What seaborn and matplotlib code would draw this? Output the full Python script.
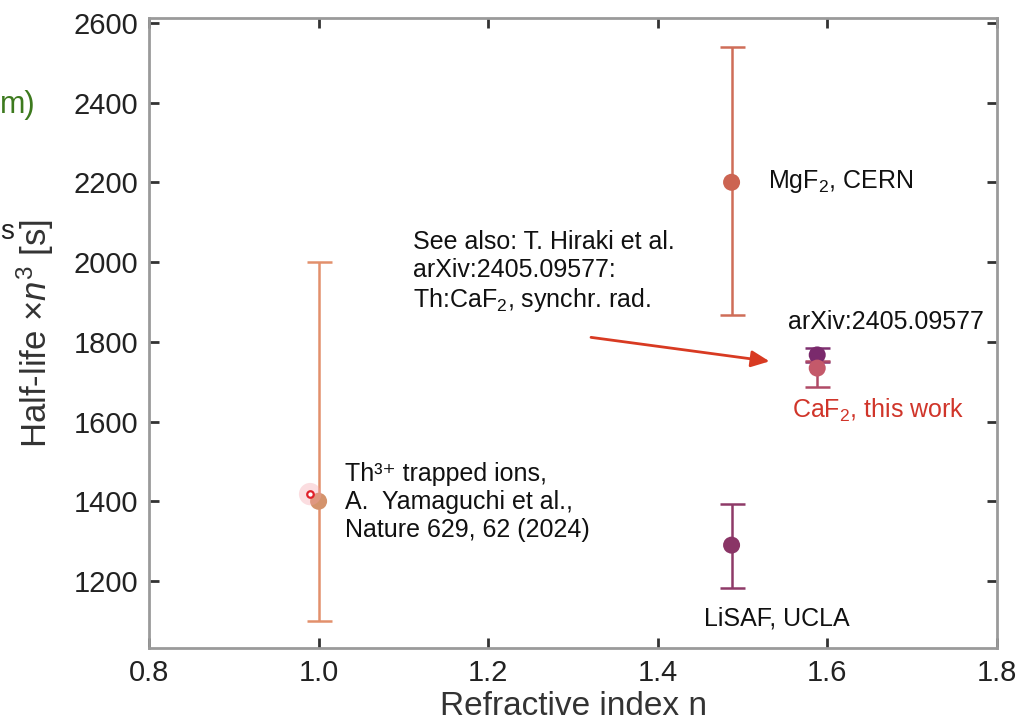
import matplotlib
matplotlib.use("Agg")
import matplotlib.pyplot as plt
import seaborn as sns
import numpy as np
import pandas as pd

# ---- data ----
labels = ["Th3+ trapped ions", "MgF2, CERN", "LiSAF, UCLA", "arXiv:2405.09577", "CaF2, this work"]
n_index = [1.0, 1.487, 1.487, 1.588, 1.588]
half_life = [1400, 2200, 1290, 1767, 1734]
err_low = [1100, 1868, 1183, 1749, 1687]
err_high = [2000, 2540, 1393, 1785, 1752]
point_colors = ["#d4936c", "#cc6452", "#8a3566", "#7a2a6c", "#c4596a"]
bar_colors = ["#e2906c", "#cf6d58", "#8e3a68", "#7e3070", "#b04a66"]

x_ticks = [0.8, 1.0, 1.2, 1.4, 1.6, 1.8]
y_ticks = [1200, 1400, 1600, 1800, 2000, 2200, 2400, 2600]

df = pd.DataFrame({"label": labels, "n": n_index, "t": half_life,
                   "lo": err_low, "hi": err_high})

sns.set_style("ticks")
plt.rcParams["font.family"] = ["Liberation Sans", "DejaVu Sans"]
plt.rcParams["mathtext.fontset"] = "custom"
plt.rcParams["mathtext.rm"] = "Liberation Sans"
plt.rcParams["mathtext.it"] = "Liberation Sans:italic"
plt.rcParams["mathtext.bf"] = "Liberation Sans:bold"

fig = plt.figure(figsize=(10.34, 7.27), dpi=100)
ax = fig.add_axes([149/1034, 1-648/727, (997-149)/1034, (648-18)/727])

for i, row in df.iterrows():
    ax.errorbar(row["n"], row["t"],
                yerr=[[row["t"] - row["lo"]], [row["hi"] - row["t"]]],
                fmt="none", ecolor=bar_colors[i], elinewidth=1.8,
                capsize=9, capthick=1.8, zorder=2)

sns.scatterplot(data=df, x="n", y="t", hue="label", palette=point_colors,
                s=150, edgecolor="none", legend=False, ax=ax, zorder=3)

# laser-pointer ring seen in the source screenshot
ax.scatter([0.990], [1418], s=260, color="#f4a0a8", alpha=0.35, edgecolor="none", zorder=4)
ax.scatter([0.990], [1418], s=22, facecolor="white", edgecolor="#e0202a", linewidth=1.6, zorder=5)

ax.set_xlim(0.8, 1.8)
ax.set_ylim(1032, 2612)
ax.set_xticks(x_ticks)
ax.set_xticklabels([f"{v:.1f}" for v in x_ticks])
ax.set_yticks(y_ticks)

ax.tick_params(axis="both", direction="in", length=7, width=2, color="#333333",
               labelsize=21, top=True, right=True, pad=8, labelcolor="#222222")
for sp in ax.spines.values():
    sp.set_color("#9a9a9a")
    sp.set_linewidth(2)

ax.set_xlabel("Refractive index n", fontsize=24, color="#333333", labelpad=3)
ax.set_ylabel("Half-life $\\times n^3$ [s]", fontsize=25, color="#333333", labelpad=12)

fs = 18
ax.text(1.530, 2201, "MgF$_2$, CERN", fontsize=fs, va="center", ha="left", color="#111111")
ax.text(1.111, 1975, "See also: T. Hiraki et al.\narXiv:2405.09577:\nTh:CaF$_2$, synchr. rad.",
        fontsize=fs, va="center", ha="left", color="#111111", linespacing=1.2)
ax.text(1.669, 1850, "arXiv:2405.09577", fontsize=fs, va="center", ha="center", color="#111111")
ax.text(1.558, 1627, "CaF$_2$, this work", fontsize=fs, va="center", ha="left", color="#d0352a")
ax.text(1.454, 1107, "LiSAF, UCLA", fontsize=fs, va="center", ha="left", color="#111111")
ax.text(1.031, 1398, "Th\u00b3\u207a trapped ions,\nA.  Yamaguchi et al.,\nNature 629, 62 (2024)",
        fontsize=fs, va="center", ha="left", color="#111111", linespacing=1.2)

ax.annotate("", xy=(1.535, 1750), xytext=(1.318, 1812),
            arrowprops=dict(arrowstyle="-|>,head_length=1.1,head_width=0.5",
                            color="#d83a22", lw=2))

# fragments of the surrounding slide
fig.text(0.0, 1-105/727, "m)", fontsize=22, color="#3d7a1e", va="center", ha="left")
fig.text(0.0, 1-232/727, "s", fontsize=20, color="#222222", va="center", ha="left")

fig.savefig("out.png", dpi=100)
